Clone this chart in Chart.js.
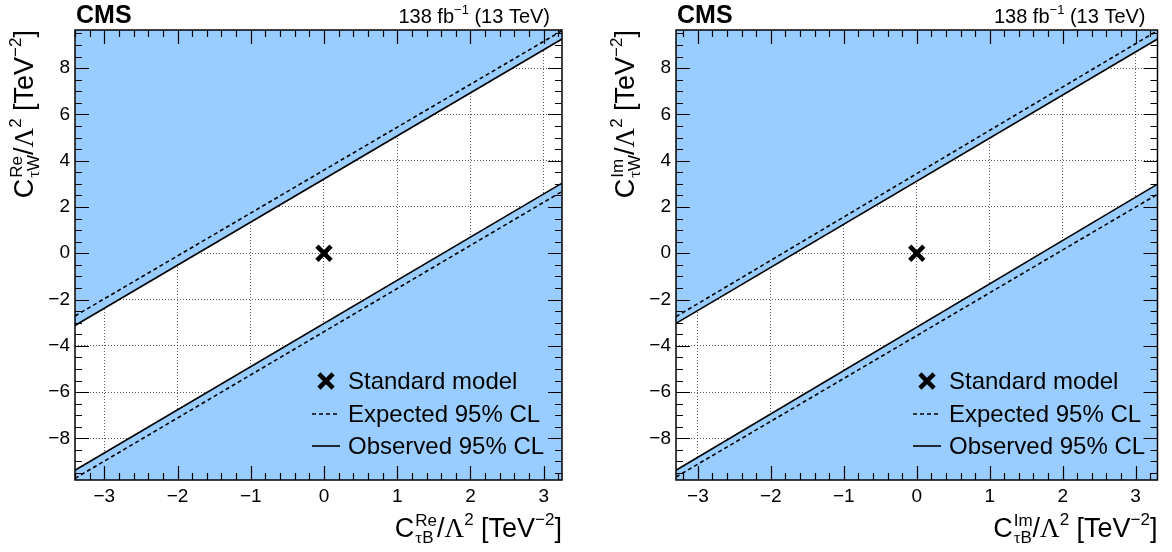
<!DOCTYPE html>
<html>
<head>
<meta charset="utf-8">
<script src="https://cdn.jsdelivr.net/npm/chart.js@4.4.1/dist/chart.umd.min.js"></script>
<style>
  html, body { margin: 0; padding: 0; background: #fff; }
  #wrap { position: relative; width: 1172px; height: 552px; }
  .panel { position: absolute; top: 0; width: 586px; height: 552px; }
</style>
</head>
<body>
<div id="wrap">
  <div class="panel" style="left:0"><canvas id="chartRe" width="586" height="552"></canvas></div>
  <div class="panel" style="left:586px"><canvas id="chartIm" width="586" height="552"></canvas></div>
</div>
<script>
// axis ranges
const xRangeRe = [-3.4, 3.25];
const xRangeIm = [-3.3, 3.3];
const yRange = [-9.8, 9.65];

// 95% CL contour lines, [x, y] at the left and right frame edges
const obsUpperRe = [[-3.4, -3.12], [3.25, 9.26]];
const obsLowerRe = [[-3.4, -9.38], [3.25, 3.03]];
const expUpperRe = [[-3.4, -2.71], [3.25, 9.62]];
const expLowerRe = [[-3.4, -9.73], [3.25, 2.67]];

const obsUpperIm = [[-3.3, -3.03], [3.3, 9.26]];
const obsLowerIm = [[-3.3, -9.38], [3.3, 2.99]];
const expUpperIm = [[-3.3, -2.74], [3.3, 9.62]];
const expLowerIm = [[-3.3, -9.67], [3.3, 2.55]];

const smPoint = [0, 0];

const legendLabels = ['Standard model', 'Expected 95% CL', 'Observed 95% CL'];
const lumiText = ['138 fb', '\u22121', ' (13 TeV)'];

const SANS = "'Liberation Sans', Arial, Helvetica, sans-serif";
const SERIF = "'Liberation Serif', 'Times New Roman', serif";
const FILL = '#99ccff';

const X_MAJOR = 1, X_MINOR = 0.2;
const Y_MAJOR = 2, Y_MINOR = 0.5;

function toXY(pts) {
  return pts.map(p => ({ x: p[0], y: p[1] }));
}

function fmtTick(v) {
  return (v < 0 ? '\u2212' : '') + Math.abs(v);
}

// --- small rich-text helper (super/subscripts) ---
function runsWidth(ctx, runs, size) {
  let w = 0;
  for (const [t, f] of runs) {
    ctx.font = size + 'px ' + f;
    w += ctx.measureText(t).width;
  }
  return w;
}

function drawRuns(ctx, runs, size, x, y) {
  for (const [t, f] of runs) {
    ctx.font = size + 'px ' + f;
    ctx.fillText(t, x, y);
    x += ctx.measureText(t).width;
  }
  return x;
}

function pieceWidth(ctx, p, main, script) {
  if (p.sup) {
    return Math.max(runsWidth(ctx, p.sup, script), runsWidth(ctx, p.sub, script)) + 1;
  }
  return runsWidth(ctx, p.runs, p.script ? script : main);
}

function drawPieces(ctx, pieces, main, script) {
  let w = 0;
  for (const p of pieces) w += pieceWidth(ctx, p, main, script);
  let x = -w;
  for (const p of pieces) {
    if (p.sup) {
      drawRuns(ctx, p.sup, script, x + 1, -0.42 * main);
      drawRuns(ctx, p.sub, script, x + 1, 0.24 * main);
    } else {
      drawRuns(ctx, p.runs, p.script ? script : main, x, p.script ? -0.44 * main : 0);
    }
    x += pieceWidth(ctx, p, main, script);
  }
}

function titlePieces(part, coef) {
  return [
    { runs: [['C', SANS]] },
    { sup: [[part, SANS]], sub: [['\u03c4', SERIF], [coef, SANS]] },
    { runs: [['/', SANS], ['\u039b', SERIF]] },
    { runs: [['2', SANS]], script: true },
    { runs: [[' [TeV', SANS]] },
    { runs: [['\u22122', SANS]], script: true },
    { runs: [[']', SANS]] }
  ];
}

// ROOT-like frame: inward ticks on all four sides, labels, legend
const rootFrame = {
  id: 'rootFrame',
  afterDraw(chart, args, opts) {
    const { ctx, chartArea: ca } = chart;
    const xs = chart.scales.x, ys = chart.scales.y;
    ctx.save();

    ctx.strokeStyle = '#000';
    ctx.lineWidth = 1.2;
    ctx.beginPath();
    for (let i = Math.ceil(xs.min / X_MINOR - 1e-6); i * X_MINOR <= xs.max + 1e-6; i++) {
      const v = i * X_MINOR;
      const px = Math.round(xs.getPixelForValue(v)) + 0.5;
      const major = Math.abs(v / X_MAJOR - Math.round(v / X_MAJOR)) < 1e-6;
      const len = major ? 14 : 7;
      ctx.moveTo(px, ca.bottom); ctx.lineTo(px, ca.bottom - len);
      ctx.moveTo(px, ca.top); ctx.lineTo(px, ca.top + len);
    }
    for (let i = Math.ceil(ys.min / Y_MINOR - 1e-6); i * Y_MINOR <= ys.max + 1e-6; i++) {
      const v = i * Y_MINOR;
      const py = Math.round(ys.getPixelForValue(v)) + 0.5;
      const major = Math.abs(v / Y_MAJOR - Math.round(v / Y_MAJOR)) < 1e-6;
      const len = major ? 14 : 7;
      ctx.moveTo(ca.left, py); ctx.lineTo(ca.left + len, py);
      ctx.moveTo(ca.right, py); ctx.lineTo(ca.right - len, py);
    }
    ctx.stroke();

    ctx.lineWidth = 1.5;
    ctx.strokeRect(ca.left, ca.top, ca.width, ca.height);

    ctx.fillStyle = '#000';
    ctx.textBaseline = 'alphabetic';

    // CMS label and luminosity
    ctx.font = 'bold 25px ' + SANS;
    ctx.textAlign = 'left';
    ctx.fillText('CMS', ca.left + 1, 23);
    ctx.save();
    ctx.translate(ca.right - 12, 23);
    drawPieces(ctx, [
      { runs: [[lumiText[0], SANS]] },
      { runs: [[lumiText[1], SANS]], script: true },
      { runs: [[lumiText[2], SANS]] }
    ], 20, 13);
    ctx.restore();

    // axis titles
    ctx.save();
    ctx.translate(ca.right, ca.bottom + 57);
    drawPieces(ctx, titlePieces(opts.part, 'B'), 27, 17);
    ctx.restore();

    ctx.save();
    ctx.translate(ca.left - 42, ca.top);
    ctx.rotate(-Math.PI / 2);
    drawPieces(ctx, titlePieces(opts.part, 'W'), 27, 17);
    ctx.restore();

    // legend
    const ds = chart.data.datasets;
    const rows = [ca.bottom - 99, ca.bottom - 66, ca.bottom - 34];
    const x0 = ca.left + 237, x1 = ca.left + 265, tx = ca.left + 273;
    const sm = ds[0];
    ctx.strokeStyle = '#000';
    ctx.lineWidth = sm.pointBorderWidth;
    Chart.helpers.drawPoint(ctx, {
      pointStyle: sm.pointStyle, radius: sm.pointRadius, borderWidth: sm.pointBorderWidth, rotation: 0
    }, (x0 + x1) / 2, rows[0]);
    [ds[1], ds[3]].forEach((d, k) => {
      ctx.beginPath();
      ctx.lineWidth = d.borderWidth;
      ctx.setLineDash(d.borderDash || []);
      ctx.moveTo(x0, rows[k + 1]);
      ctx.lineTo(x1, rows[k + 1]);
      ctx.stroke();
    });
    ctx.setLineDash([]);
    ctx.font = '24px ' + SANS;
    ctx.textAlign = 'left';
    ctx.textBaseline = 'middle';
    legendLabels.forEach((t, k) => ctx.fillText(t, tx, rows[k] + 1));

    ctx.restore();
  }
};

function buildChart(id, part, xRange, lines, yWidth, padRight) {
  const lineBase = { borderColor: '#000', pointRadius: 0, fill: false, tension: 0 };
  const datasets = [
    {
      label: legendLabels[0], data: [{ x: smPoint[0], y: smPoint[1] }], showLine: false,
      pointStyle: 'crossRot', pointRadius: 10, pointBorderWidth: 4.5,
      pointBorderColor: '#000', pointBackgroundColor: '#000', borderColor: '#000', order: 0
    },
    Object.assign({ label: legendLabels[1], data: toXY(lines.expUpper), borderWidth: 1.6, borderDash: [4, 3], order: 1 }, lineBase),
    Object.assign({ label: legendLabels[1], data: toXY(lines.expLower), borderWidth: 1.6, borderDash: [4, 3], order: 1 }, lineBase),
    Object.assign({}, lineBase, { label: legendLabels[2], data: toXY(lines.obsUpper), borderWidth: 1.6, fill: 'end', backgroundColor: FILL, order: 2 }),
    Object.assign({}, lineBase, { label: legendLabels[2], data: toXY(lines.obsLower), borderWidth: 1.6, fill: 'start', backgroundColor: FILL, order: 2 })
  ];

  const gridOpts = { color: 'rgba(0,0,0,0.65)', lineWidth: 1, drawTicks: false };
  const borderOpts = { display: false, dash: [1, 2] };

  return new Chart(document.getElementById(id), {
    type: 'line',
    data: { datasets },
    options: {
      responsive: false,
      animation: false,
      events: [],
      layout: { padding: { left: 0, right: padRight, top: 30, bottom: 0 } },
      plugins: {
        legend: { display: false },
        tooltip: { enabled: false },
        rootFrame: { part }
      },
      scales: {
        x: {
          type: 'linear', min: xRange[0], max: xRange[1],
          grid: gridOpts, border: borderOpts,
          ticks: { stepSize: X_MAJOR, includeBounds: false, padding: 5, color: '#000', maxRotation: 0,
                   font: { family: SANS, size: 19 }, callback: fmtTick },
          afterFit: s => { s.height = 72; }
        },
        y: {
          type: 'linear', min: yRange[0], max: yRange[1],
          grid: gridOpts, border: borderOpts,
          ticks: { stepSize: Y_MAJOR, includeBounds: false, padding: 5, color: '#000',
                   font: { family: SANS, size: 19 }, callback: fmtTick },
          afterFit: s => { s.width = yWidth; }
        }
      }
    },
    plugins: [rootFrame]
  });
}

buildChart('chartRe', 'Re', xRangeRe,
  { obsUpper: obsUpperRe, obsLower: obsLowerRe, expUpper: expUpperRe, expLower: expLowerRe }, 75, 24);
buildChart('chartIm', 'Im', xRangeIm,
  { obsUpper: obsUpperIm, obsLower: obsLowerIm, expUpper: expUpperIm, expLower: expLowerIm }, 90, 10);
</script>
</body>
</html>
